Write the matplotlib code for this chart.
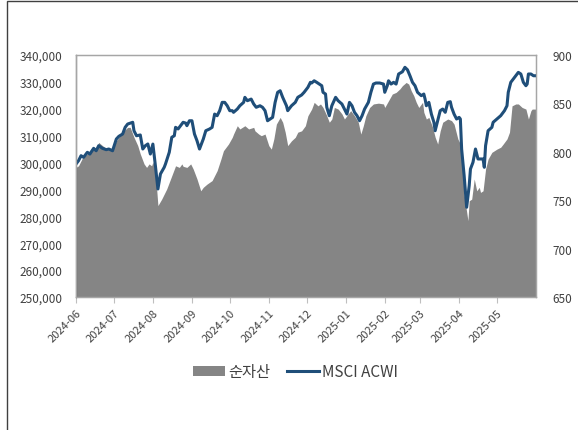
import matplotlib
matplotlib.use('Agg')
import matplotlib.pyplot as plt
import matplotlib.dates as mdates
from matplotlib.patches import Patch, Rectangle
from matplotlib.lines import Line2D
from matplotlib.ticker import FuncFormatter
import pandas as pd

plt.rcParams['font.family'] = ['Noto Sans CJK KR', 'DejaVu Sans']

# 순자산 (left axis)
nav_dates = [
    '2024-06-01', '2024-06-03', '2024-06-06', '2024-06-10', '2024-06-14', '2024-06-17', '2024-06-19',
    '2024-06-22', '2024-06-26', '2024-06-30', '2024-07-03', '2024-07-06', '2024-07-09', '2024-07-12',
    '2024-07-14', '2024-07-17', '2024-07-20', '2024-07-22', '2024-07-25', '2024-07-27', '2024-07-29',
    '2024-07-31', '2024-08-01', '2024-08-03', '2024-08-05', '2024-08-08', '2024-08-12', '2024-08-16',
    '2024-08-19', '2024-08-22', '2024-08-24', '2024-08-25', '2024-08-28', '2024-08-31', '2024-09-02',
    '2024-09-05', '2024-09-08', '2024-09-10', '2024-09-13', '2024-09-17', '2024-09-21', '2024-09-24',
    '2024-09-26', '2024-09-30', '2024-10-03', '2024-10-04', '2024-10-07', '2024-10-09', '2024-10-13',
    '2024-10-16', '2024-10-20', '2024-10-21', '2024-10-24', '2024-10-26', '2024-10-29', '2024-11-01',
    '2024-11-03', '2024-11-05', '2024-11-07', '2024-11-10', '2024-11-12', '2024-11-14', '2024-11-16',
    '2024-11-19', '2024-11-22', '2024-11-24', '2024-11-27', '2024-11-30', '2024-12-02', '2024-12-05',
    '2024-12-07', '2024-12-10', '2024-12-12', '2024-12-14', '2024-12-17', '2024-12-19', '2024-12-21',
    '2024-12-23', '2024-12-26', '2024-12-29', '2024-12-31', '2025-01-03', '2025-01-05', '2025-01-08',
    '2025-01-11', '2025-01-13', '2025-01-15', '2025-01-17', '2025-01-20', '2025-01-23', '2025-01-27',
    '2025-01-31', '2025-02-01', '2025-02-04', '2025-02-07', '2025-02-10', '2025-02-13', '2025-02-15',
    '2025-02-18', '2025-02-20', '2025-02-22', '2025-02-24', '2025-02-26', '2025-02-28', '2025-03-03',
    '2025-03-04', '2025-03-06', '2025-03-08', '2025-03-11', '2025-03-13', '2025-03-15', '2025-03-17',
    '2025-03-19', '2025-03-21', '2025-03-23', '2025-03-26', '2025-03-28', '2025-03-31', '2025-04-02',
    '2025-04-04', '2025-04-05', '2025-04-08', '2025-04-09', '2025-04-11', '2025-04-13', '2025-04-15',
    '2025-04-17', '2025-04-18', '2025-04-20', '2025-04-22', '2025-04-24', '2025-04-27', '2025-05-01',
    '2025-05-04', '2025-05-06', '2025-05-09', '2025-05-11', '2025-05-13', '2025-05-16', '2025-05-18',
    '2025-05-21', '2025-05-24', '2025-05-26', '2025-05-28', '2025-05-29', '2025-06-01',
]
nav_values = [
    298200, 298800, 301600, 303200, 305700, 305000, 307500,
    306300, 305000, 305000, 308100, 310000, 311800, 313100,
    313100, 309400, 306300, 303200, 299500, 298200, 299500,
    298800, 300200, 296400, 284000, 286400, 290200, 295100,
    298800, 298200, 299500, 298600, 298200, 299500, 297600,
    293900, 289500, 290800, 292000, 293300, 297000, 301300,
    304400, 306900, 309400, 310600, 313700, 312500, 313700,
    312500, 313100, 311800, 310600, 310000, 310600, 306300,
    305000, 308800, 314300, 316800, 315000, 311300, 306300,
    308100, 309400, 311300, 311800, 313700, 317400, 319900,
    322400, 321100, 321800, 320500, 317400, 315000, 316200,
    320500, 319900, 318100, 316200, 318100, 319300, 317400,
    315000, 310600, 313700, 317400, 320500, 321800, 322100,
    321800, 320500, 323000, 325500, 326100, 327400, 328600,
    329800, 329200, 326700, 324900, 322400, 320500, 322400,
    318700, 316200, 316800, 313100, 309400, 306900, 311800,
    315000, 315600, 316200, 315600, 314300, 308800, 306900,
    297600, 288000, 278400, 285800, 286400, 293900, 289500,
    290800, 288900, 289500, 297600, 301300, 303800, 305000,
    305700, 306900, 308800, 311300, 321100, 321800, 321800,
    320500, 319900, 316200, 319300, 319900, 319900,
]

# MSCI ACWI (right axis)
acwi_dates = [
    '2024-06-01', '2024-06-03', '2024-06-05', '2024-06-07', '2024-06-10', '2024-06-12', '2024-06-15',
    '2024-06-17', '2024-06-19', '2024-06-22', '2024-06-25', '2024-06-27', '2024-06-30', '2024-07-03',
    '2024-07-05', '2024-07-08', '2024-07-10', '2024-07-12', '2024-07-16', '2024-07-17', '2024-07-19',
    '2024-07-22', '2024-07-24', '2024-07-26', '2024-07-28', '2024-07-30', '2024-08-01', '2024-08-03',
    '2024-08-05', '2024-08-07', '2024-08-10', '2024-08-11', '2024-08-14', '2024-08-16', '2024-08-18',
    '2024-08-19', '2024-08-21', '2024-08-23', '2024-08-25', '2024-08-27', '2024-08-28', '2024-08-30',
    '2024-09-01', '2024-09-03', '2024-09-05', '2024-09-07', '2024-09-10', '2024-09-12', '2024-09-15',
    '2024-09-17', '2024-09-19', '2024-09-21', '2024-09-23', '2024-09-25', '2024-09-27', '2024-09-29',
    '2024-10-01', '2024-10-03', '2024-10-04', '2024-10-07', '2024-10-09', '2024-10-12', '2024-10-13',
    '2024-10-15', '2024-10-18', '2024-10-20', '2024-10-22', '2024-10-25', '2024-10-27', '2024-10-29',
    '2024-10-31', '2024-11-02', '2024-11-04', '2024-11-06', '2024-11-08', '2024-11-10', '2024-11-12',
    '2024-11-15', '2024-11-16', '2024-11-19', '2024-11-22', '2024-11-24', '2024-11-27', '2024-11-29',
    '2024-12-02', '2024-12-04', '2024-12-05', '2024-12-07', '2024-12-09', '2024-12-11', '2024-12-13',
    '2024-12-14', '2024-12-16', '2024-12-17', '2024-12-19', '2024-12-21', '2024-12-24', '2024-12-26',
    '2024-12-29', '2024-12-31', '2025-01-02', '2025-01-04', '2025-01-06', '2025-01-08', '2025-01-10',
    '2025-01-12', '2025-01-14', '2025-01-16', '2025-01-19', '2025-01-21', '2025-01-23', '2025-01-25',
    '2025-01-28', '2025-01-31', '2025-02-01', '2025-02-03', '2025-02-04', '2025-02-06', '2025-02-08',
    '2025-02-10', '2025-02-12', '2025-02-15', '2025-02-17', '2025-02-19', '2025-02-21', '2025-02-23',
    '2025-02-25', '2025-02-27', '2025-03-02', '2025-03-04', '2025-03-05', '2025-03-06', '2025-03-08',
    '2025-03-10', '2025-03-12', '2025-03-13', '2025-03-15', '2025-03-17', '2025-03-19', '2025-03-21',
    '2025-03-23', '2025-03-25', '2025-03-26', '2025-03-28', '2025-03-30', '2025-04-01', '2025-04-02',
    '2025-04-03', '2025-04-05', '2025-04-07', '2025-04-09', '2025-04-10', '2025-04-12', '2025-04-13',
    '2025-04-14', '2025-04-16', '2025-04-18', '2025-04-20', '2025-04-21', '2025-04-22', '2025-04-24',
    '2025-04-27', '2025-04-28', '2025-05-01', '2025-05-04', '2025-05-07', '2025-05-09', '2025-05-10',
    '2025-05-12', '2025-05-15', '2025-05-18', '2025-05-20', '2025-05-22', '2025-05-24', '2025-05-25',
    '2025-05-26', '2025-05-28', '2025-05-30', '2025-06-01',
]
acwi_values = [
    787.4, 790.8, 796.0, 794.3, 799.5, 797.7, 803.6,
    801.1, 806.3, 803.6, 802.2, 802.9, 801.1, 813.2,
    816.0, 818.4, 825.3, 828.7, 830.5, 821.8, 816.6,
    817.4, 802.9, 806.3, 808.1, 797.7, 808.0, 785.6,
    761.6, 777.1, 784.0, 787.4, 799.5, 815.0, 816.6,
    825.3, 823.6, 827.0, 830.5, 829.7, 827.0, 832.1,
    832.1, 818.4, 811.5, 802.9, 813.2, 821.8, 823.6,
    825.3, 839.0, 837.3, 842.5, 851.1, 851.1, 847.6,
    842.5, 842.5, 840.8, 844.2, 847.6, 851.1, 856.3,
    852.8, 854.5, 849.4, 846.0, 847.6, 846.0, 842.5,
    832.1, 833.9, 835.6, 851.1, 861.5, 863.1, 856.3,
    847.6, 842.5, 847.6, 851.1, 856.3, 858.7, 861.5,
    866.6, 871.8, 871.1, 873.4, 871.8, 870.0, 868.3,
    861.5, 859.7, 846.0, 837.3, 847.6, 856.3, 852.8,
    849.4, 844.2, 839.0, 851.1, 847.6, 840.8, 837.3,
    832.1, 837.3, 844.2, 851.1, 861.5, 870.0, 871.1,
    871.1, 870.0, 861.5, 868.3, 873.4, 870.0, 871.8,
    870.0, 880.4, 882.7, 887.3, 884.8, 878.6, 871.8,
    868.3, 861.5, 858.0, 859.7, 854.5, 847.6, 851.1,
    839.0, 830.5, 821.8, 832.1, 842.5, 844.2, 840.8,
    851.1, 851.8, 846.0, 839.0, 833.9, 835.6, 833.9,
    802.9, 775.3, 742.7, 765.0, 782.2, 789.1, 796.0,
    802.9, 792.6, 792.6, 792.6, 784.0, 806.3, 821.8,
    825.3, 830.5, 833.9, 837.3, 842.5, 847.6, 861.5,
    871.8, 877.0, 882.1, 880.4, 871.8, 868.3, 870.0,
    880.4, 880.4, 878.6, 878.6,
]

series_labels = ['순자산', 'MSCI ACWI']

nav_x = pd.to_datetime(nav_dates)
acwi_x = pd.to_datetime(acwi_dates)

fig = plt.figure(figsize=(5.78, 4.31), dpi=100)
ax = fig.add_axes([0.1315, 0.3086, 0.7958, 0.5614])
ax2 = ax.twinx()

# outer chart border (only top and left are visible in the crop)
fig.patches.append(Rectangle((7 / 578, -0.1), 1.2, 1.1 - 1.5 / 431, transform=fig.transFigure,
                             fill=False, edgecolor='#404040', linewidth=1.0))

ax.fill_between(nav_x, nav_values, 250000, color='#858585', linewidth=0)
ax2.plot(acwi_x, acwi_values, color='#1F4E79', linewidth=2.2)

ax.set_ylim(250000, 340000)
ax.set_yticks(range(250000, 340001, 10000))
ax.yaxis.set_major_formatter(FuncFormatter(lambda v, p: f'{int(v):,}'))
ax2.set_ylim(650, 900)
ax2.set_yticks(range(650, 901, 50))

ax.set_xlim(pd.Timestamp('2024-06-01'), pd.Timestamp('2025-06-01'))
ax.xaxis.set_major_locator(mdates.MonthLocator())
ax.xaxis.set_major_formatter(mdates.DateFormatter('%Y-%m'))
ticks = ax.get_xticks()
ax.set_xticks(ticks[:-1])
for lbl in ax.get_xticklabels():
    lbl.set_rotation(45)
    lbl.set_ha('right')
    lbl.set_rotation_mode('anchor')

ax.tick_params(axis='x', colors='#BFBFBF', labelcolor='#404040', labelsize=8, length=4, width=0.8)
ax.tick_params(axis='y', length=0, labelsize=8.5, labelcolor='#404040', pad=10)
ax2.tick_params(axis='y', length=0, labelsize=8.5, labelcolor='#404040', pad=12)

for a in (ax, ax2):
    for s in a.spines.values():
        s.set_color('#A6A6A6')
        s.set_linewidth(0.9)
ax.spines['left'].set_color('#404040')

handles = [Patch(facecolor='#858585', edgecolor='none'),
           Line2D([0], [0], color='#1F4E79', linewidth=2.2)]
fig.legend(handles, series_labels, loc='center', bbox_to_anchor=(0.512, 0.135), ncol=2,
           frameon=False, fontsize=11, handlelength=2.1, handletextpad=0.2,
           columnspacing=1.1, labelcolor='#404040')

fig.savefig('out.png', dpi=100)
